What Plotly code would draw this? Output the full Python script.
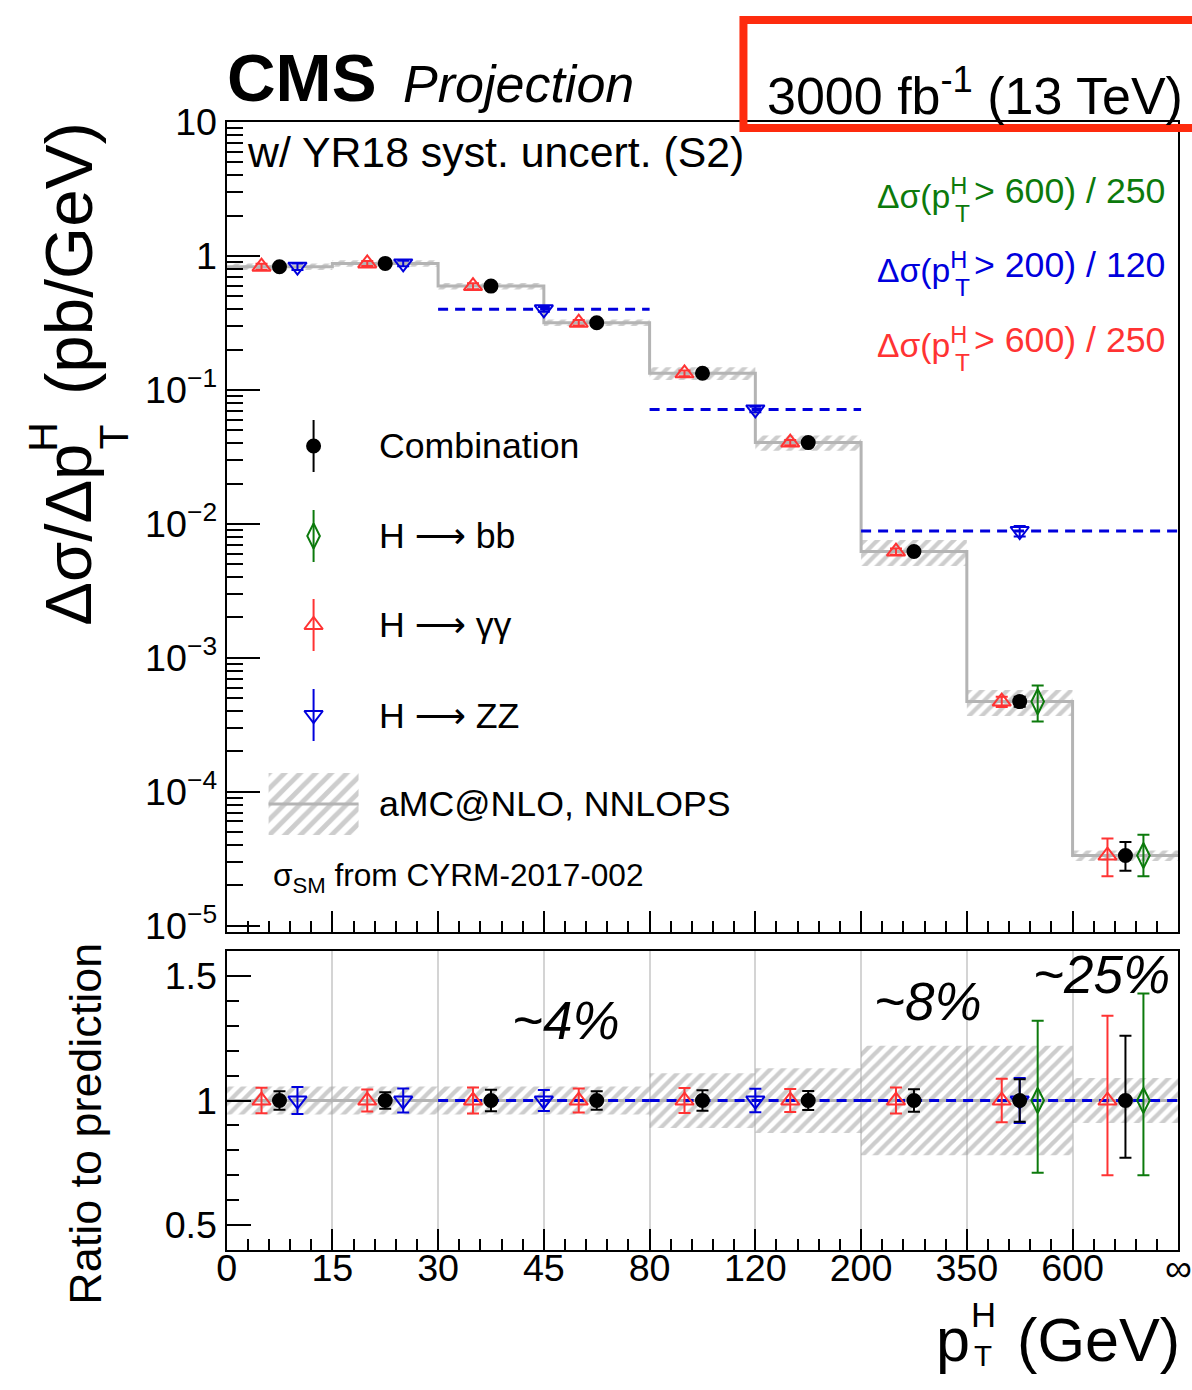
import plotly.graph_objects as go

W, H = 1192, 1390
FONT = "Liberation Sans, Arial, Helvetica, sans-serif"

# ---- data -------------------------------------------------------------
bin_labels = ["0", "15", "30", "45", "80", "120", "200", "350", "600", "∞"]

# SM prediction (aMC@NLO, NNLOPS), pb/GeV, and its relative uncertainty
prediction = [0.831, 0.879, 0.595, 0.317, 0.133, 0.0404, 0.00621, 4.71e-4, 3.34e-5]
pred_unc = [0.056, 0.056, 0.056, 0.056, 0.11, 0.13, 0.22, 0.22, 0.09]

# combination (ratio to prediction and relative uncertainties)
comb_ratio = [1.0, 1.0, 1.0, 1.0, 1.0, 1.0, 1.0, 1.0, 1.0]
comb_up = [0.037, 0.033, 0.043, 0.037, 0.041, 0.038, 0.045, 0.085, 0.26]
comb_dn = [0.037, 0.033, 0.043, 0.037, 0.041, 0.038, 0.045, 0.085, 0.23]

# H -> gamma gamma
gg_ratio = [1.0, 1.0, 1.0, 1.0, 1.0, 1.0, 1.0, 1.0, 1.0]
gg_up = [0.051, 0.044, 0.052, 0.048, 0.050, 0.046, 0.052, 0.087, 0.34]
gg_dn = [0.051, 0.044, 0.052, 0.048, 0.050, 0.046, 0.052, 0.087, 0.30]

# H -> ZZ (merged bins: first and last bin index edge)
zz_lo = [0, 1, 2, 4, 6]
zz_hi = [1, 2, 4, 6, 9]
zz_xsec = [0.831, 0.879, 0.399, 0.0715, 0.00884]
zz_ratio = [1.0, 1.0, 1.0, 1.0, 1.0]
zz_up = [0.054, 0.048, 0.042, 0.047, 0.09]
zz_dn = [0.054, 0.048, 0.042, 0.047, 0.09]

# H -> bb
bb_bin = [7, 8]
bb_ratio = [1.0, 1.0]
bb_up = [0.32, 0.43]
bb_dn = [0.29, 0.30]

# ---- styling ----------------------------------------------------------
RED = "#ff3333"
BLUE = "#0000dd"
GREEN = "#0c7a0c"
GRAY = "#b4b4b4"
HATCH = "#9c9c9c"
SHIFT = 0.17
nb = len(prediction)
centers = [i + 0.5 for i in range(nb)]
ARROW = '<span style="font-family:DejaVu Sans">\u27f6</span>'

# layout grid: positions are given on a 1192 x 1390 canvas and spread out
# slightly from the page centre so the drawing fills the page edge to edge
SX, SY = 0.981, 0.974
CX, CY = 596, 695
FS = 1.02


def fx(x):
    return CX + (x - CX) / SX


def fy(y):
    return CY + (y - CY) / SY


def px(x):
    return fx(x) / W


def py(y):
    return 1 - fy(y) / H


def fs(size):
    return round(size * FS, 1)


fig = go.Figure()


def hatch_band(xa, ya, lo, hi):
    fig.add_trace(go.Bar(
        x=centers, base=lo, y=[h - l for h, l in zip(hi, lo)], width=1.0,
        marker=dict(color="rgba(0,0,0,0)", line=dict(width=0),
                    pattern=dict(shape="/", fgcolor=HATCH, bgcolor="rgba(0,0,0,0)",
                                 size=9, solidity=0.48)),
        xaxis=xa, yaxis=ya, showlegend=False, hoverinfo="skip"))


def points(xa, ya, x, y, up, dn, color, symbol, size, caps=True):
    fig.add_trace(go.Scatter(
        x=x, y=y, mode="markers",
        marker=dict(symbol=symbol, size=size, color=color,
                    line=dict(color=color, width=2)),
        error_y=dict(type="data", symmetric=False, array=up, arrayminus=dn,
                     color=color, thickness=2, width=6 if caps else 0),
        xaxis=xa, yaxis=ya, showlegend=False, hoverinfo="skip"))


def zz_segments(values):
    xs, ys = [], []
    for lo, hi, v in zip(zz_lo, zz_hi, values):
        if hi - lo > 1:
            xs += [lo, hi, None]
            ys += [v, v, None]
    return xs, ys


zz_x = [(lo + hi) / 2 + (SHIFT if hi - lo == 1 else 0) for lo, hi in zip(zz_lo, zz_hi)]

# ---- upper panel ------------------------------------------------------
hatch_band("x", "y", [v * (1 - u) for v, u in zip(prediction, pred_unc)],
           [v * (1 + u) for v, u in zip(prediction, pred_unc)])
fig.add_trace(go.Scatter(x=list(range(nb + 1)), y=prediction + [prediction[-1]],
                         mode="lines", line=dict(color=GRAY, width=3, shape="hv"),
                         xaxis="x", yaxis="y", showlegend=False, hoverinfo="skip"))
sx, sy = zz_segments(zz_xsec)
fig.add_trace(go.Scatter(x=sx, y=sy, mode="lines",
                         line=dict(color=BLUE, width=3, dash="10px,7px"),
                         xaxis="x", yaxis="y", showlegend=False, hoverinfo="skip"))

comb_y = [p * r for p, r in zip(prediction, comb_ratio)]
gg_y = [p * r for p, r in zip(prediction, gg_ratio)]
bb_y = [prediction[i] * r for i, r in zip(bb_bin, bb_ratio)]
points("x", "y", [c - SHIFT for c in centers], gg_y,
       [v * e for v, e in zip(gg_y, gg_up)], [v * e for v, e in zip(gg_y, gg_dn)],
       RED, "triangle-up-open", 16)
points("x", "y", zz_x, zz_xsec,
       [v * e for v, e in zip(zz_xsec, zz_up)], [v * e for v, e in zip(zz_xsec, zz_dn)],
       BLUE, "triangle-down-open", 16)
points("x", "y", [centers[i] + SHIFT for i in bb_bin], bb_y,
       [v * e for v, e in zip(bb_y, bb_up)], [v * e for v, e in zip(bb_y, bb_dn)],
       GREEN, "diamond-tall-open", 18)
points("x", "y", centers, comb_y,
       [v * e for v, e in zip(comb_y, comb_up)], [v * e for v, e in zip(comb_y, comb_dn)],
       "black", "circle", 13)

# ---- ratio panel ------------------------------------------------------
hatch_band("x2", "y2", [1 - u for u in pred_unc], [1 + u for u in pred_unc])
fig.add_trace(go.Scatter(x=[0, nb], y=[1, 1], mode="lines",
                         line=dict(color=GRAY, width=3),
                         xaxis="x2", yaxis="y2", showlegend=False, hoverinfo="skip"))
sx, sy = zz_segments(zz_ratio)
fig.add_trace(go.Scatter(x=sx, y=sy, mode="lines",
                         line=dict(color=BLUE, width=3, dash="10px,7px"),
                         xaxis="x2", yaxis="y2", showlegend=False, hoverinfo="skip"))
points("x2", "y2", [c - SHIFT for c in centers], gg_ratio, gg_up, gg_dn, RED, "triangle-up-open", 16)
points("x2", "y2", zz_x, zz_ratio, zz_up, zz_dn, BLUE, "triangle-down-open", 16)
points("x2", "y2", [centers[i] + SHIFT for i in bb_bin], bb_ratio, bb_up, bb_dn,
       GREEN, "diamond-tall-open", 18)
points("x2", "y2", centers, comb_ratio, comb_up, comb_dn, "black", "circle", 13)

# ---- legend keys (canvas-pixel overlay) -------------------------------
leg_rows = [443, 533, 622, 712]
leg_style = [("black", "circle", 13), (GREEN, "diamond-tall-open", 18),
             (RED, "triangle-up-open", 16), (BLUE, "triangle-down-open", 16)]
for yk, (col, sym, sz) in zip(leg_rows, leg_style):
    fig.add_trace(go.Scatter(
        x=[315], y=[yk], mode="markers",
        marker=dict(symbol=sym, size=sz, color=col, line=dict(color=col, width=2)),
        error_y=dict(type="constant", value=26, color=col, thickness=2, width=0),
        xaxis="x3", yaxis="y3", showlegend=False, hoverinfo="skip"))
fig.add_trace(go.Bar(
    x=[315], base=[770], y=[62], width=[90],
    marker=dict(color="rgba(0,0,0,0)", line=dict(width=0),
                pattern=dict(shape="/", fgcolor=HATCH, bgcolor="rgba(0,0,0,0)",
                             size=11, solidity=0.45)),
    xaxis="x3", yaxis="y3", showlegend=False, hoverinfo="skip"))
fig.add_trace(go.Scatter(x=[270, 360], y=[801, 801], mode="lines",
                         line=dict(color=GRAY, width=3),
                         xaxis="x3", yaxis="y3", showlegend=False, hoverinfo="skip"))

# ---- axes -------------------------------------------------------------
x_dom = [px(228), px(1180)]
up_dom = [py(929), py(119)]
lo_dom = [py(1247), py(948)]

tick_font = dict(family=FONT, size=fs(37), color="black")
common_x = dict(range=[0, nb], domain=x_dom, showline=True, linewidth=2, linecolor="black",
                mirror=True, ticks="inside", ticklen=21, tickwidth=2, tickcolor="black",
                tickmode="array", tickvals=list(range(nb + 1)),
                minor=dict(ticks="inside", ticklen=11, tickwidth=2, tickcolor="black",
                           dtick=0.2, tick0=0, showgrid=False),
                zeroline=False)

dec = list(range(-5, 2))
minor_vals = [9e-6] + [m * 10 ** k for k in range(-5, 1) for m in range(2, 10)]
fig.update_layout(
    xaxis=dict(**common_x, anchor="y", showticklabels=False, showgrid=False),
    yaxis=dict(type="log", range=[-5.047, 1.0], domain=up_dom, anchor="x",
               showline=True, linewidth=2, linecolor="black", mirror=True,
               ticks="inside", ticklen=33, tickwidth=2, tickcolor="black",
               tickmode="array", tickvals=[10.0 ** k for k in dec],
               ticktext=["10<sup>\u2212%d</sup>" % -k if k < 0 else str(10 ** k) for k in dec],
               tickfont=tick_font, showgrid=False, zeroline=False,
               minor=dict(ticks="inside", ticklen=16, tickwidth=2, tickcolor="black",
                          tickmode="array", tickvals=minor_vals, showgrid=False)),
    xaxis2=dict(**common_x, anchor="y2", showticklabels=True, ticktext=bin_labels,
                tickfont=tick_font, showgrid=True, gridcolor="#d4d4d4", gridwidth=1.5,
                ticklabeloverflow="allow", ticklabelstandoff=-16),
    yaxis2=dict(range=[0.4, 1.6], domain=lo_dom, anchor="x2",
                showline=True, linewidth=2, linecolor="black", mirror=True,
                ticks="inside", ticklen=24, tickwidth=2, tickcolor="black",
                tickmode="array", tickvals=[0.5, 1, 1.5], ticktext=["0.5", "1", "1.5"],
                tickfont=tick_font, showgrid=False, zeroline=False,
                minor=dict(ticks="inside", ticklen=12, tickwidth=2, tickcolor="black",
                           dtick=0.1, tick0=0, showgrid=False)),
    xaxis3=dict(range=[CX - CX * SX, CX + (W - CX) * SX], domain=[0, 1], anchor="y3",
                visible=False),
    yaxis3=dict(range=[CY + (H - CY) * SY, CY - CY * SY], domain=[0, 1], anchor="x3",
                visible=False),
    width=W, height=H, margin=dict(l=0, r=0, t=0, b=0),
    paper_bgcolor="white", plot_bgcolor="rgba(0,0,0,0)",
    barmode="overlay", showlegend=False,
    font=dict(family=FONT, color="black"),
)

# highlight frame around the luminosity label
fig.add_shape(type="rect", xref="paper", yref="paper", x0=px(745), x1=px(1200),
              y0=py(125), y1=py(17), line=dict(color="#fe2b0e", width=8))


def txt(x, y, s, size, color="black", xa="left", ya="middle", angle=0):
    fig.add_annotation(x=px(x), y=py(y), xref="paper", yref="paper", text=s,
                       showarrow=False, xanchor=xa, yanchor=ya, textangle=angle,
                       font=dict(family=FONT, size=fs(size), color=color))


txt(226, 75, "<b>CMS</b>", 66)
txt(402, 81, "<i>Projection</i>", 51)
txt(767, 89, "3000 fb<sup>-1</sup> (13 TeV)", 51)
txt(246, 149, "w/ YR18 syst. uncert. (S2)", 42)

# right-hand captions for the merged-bin entries
for yc, col, cut, div in [(188, GREEN, "600", "250"), (262, BLUE, "200", "120"),
                          (337, RED, "600", "250")]:
    txt(971, yc + 3, "\u0394\u03c3(p<sup>H</sup>", 33, col, xa="right")
    txt(1169, yc, "> %s) / %s" % (cut, div), 35, col, xa="right")
    txt(964, yc + 23, "T", 24, col, xa="center")

# legend text
for yk, s in zip(leg_rows + [801], ["Combination", "H " + ARROW + " bb",
                                    "H " + ARROW + " \u03b3\u03b3",
                                    "H " + ARROW + " ZZ", "aMC@NLO, NNLOPS"]):
    txt(378, yk, s, 35)
txt(272, 874, "\u03c3<sub>SM</sub> from CYRM-2017-002", 31)

# uncertainty size labels in the ratio panel
txt(567, 1017, "<i>~4%</i>", 52, xa="center")
txt(930, 998, "<i>~8%</i>", 52, xa="center")
txt(1103, 971, "<i>~25%</i>", 52, xa="center")

# axis titles
txt(86, 1121, "Ratio to prediction", 44, xa="center", angle=-90)
txt(70, 625, "\u0394\u03c3/\u0394p", 64, xa="center", ya="bottom", angle=-90)
txt(44, 434, "H", 40, xa="center", angle=-90)
txt(115, 434, "T", 40, xa="center", angle=-90)
txt(70, 117, "(pb/GeV)", 66, xa="center", ya="top", angle=-90)

txt(936, 1337, "p", 60)
txt(971, 1312, "H", 34)
txt(974, 1352, "T", 29)
txt(1017, 1337, "(GeV)", 60)

fig.write_html("out.html")
